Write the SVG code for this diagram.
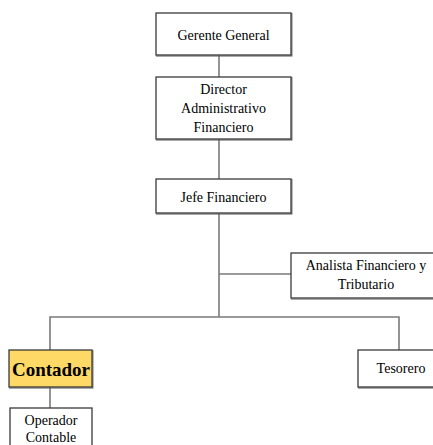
<svg xmlns="http://www.w3.org/2000/svg" width="433" height="445" viewBox="0 0 433 445">
  <style>
    .box { fill: #ffffff; stroke: #3a3a3a; stroke-width: 1.3; }
    .shade { fill: none; stroke: #555555; stroke-width: 1.2; }
    .hl { fill: #ffd966; stroke: #3a3a3a; stroke-width: 1.3; }
    .lbl { font-family: "Liberation Serif", "Times New Roman", serif; font-size: 14px; fill: #000000; text-anchor: middle; }
    .big { font-family: "Liberation Serif", "Times New Roman", serif; font-size: 19px; font-weight: bold; fill: #000000; text-anchor: middle; }
    .wire { fill: none; stroke: #7a7a7a; stroke-width: 1.6; }
  </style>

  <g id="connectors">
    <line class="wire" x1="219" y1="55" x2="219" y2="77"/>
    <line class="wire" x1="219" y1="139" x2="219" y2="179"/>
    <line class="wire" x1="219" y1="213" x2="219" y2="317"/>
    <line class="wire" x1="219" y1="274" x2="291" y2="274"/>
    <polyline class="wire" points="50,350 50,317 399,317 399,350"/>
    <line class="wire" x1="50" y1="387" x2="50" y2="408"/>
  </g>

  <g id="gerente-general">
    <rect class="box" x="156" y="13" width="135" height="42"/>
    <polyline class="shade" points="156,55.8 291.8,55.8 291.8,13"/>
    <text class="lbl" x="223.5" y="40">Gerente General</text>
  </g>

  <g id="director-administrativo">
    <rect class="box" x="156" y="77" width="135" height="62"/>
    <polyline class="shade" points="156,139.8 291.8,139.8 291.8,77"/>
    <text class="lbl" x="223.5" y="94">Director</text>
    <text class="lbl" x="223.5" y="113">Administrativo</text>
    <text class="lbl" x="223.5" y="132">Financiero</text>
  </g>

  <g id="jefe-financiero">
    <rect class="box" x="156" y="179" width="135" height="34"/>
    <polyline class="shade" points="156,213.8 291.8,213.8 291.8,179"/>
    <text class="lbl" x="223.5" y="202">Jefe Financiero</text>
  </g>

  <g id="analista">
    <rect class="box" x="291" y="253" width="150" height="45"/>
    <line class="shade" x1="291" y1="299" x2="441" y2="299" stroke-width="2"/>
    <text class="lbl" x="366" y="270">Analista Financiero y</text>
    <text class="lbl" x="366" y="289">Tributario</text>
  </g>

  <g id="contador">
    <rect class="hl" x="9" y="350" width="83" height="37"/>
    <polyline class="shade" points="9,387.8 92.8,387.8 92.8,350"/>
    <text class="big" x="51" y="376">Contador</text>
  </g>

  <g id="tesorero">
    <rect class="box" x="358" y="350" width="90" height="37"/>
    <line class="shade" x1="358" y1="387.8" x2="448" y2="387.8"/>
    <text class="lbl" x="401" y="373">Tesorero</text>
  </g>

  <g id="operador-contable">
    <rect class="box" x="10" y="408" width="82" height="50"/>
    <text class="lbl" x="51" y="425">Operador</text>
    <text class="lbl" x="51" y="442">Contable</text>
  </g>
</svg>
